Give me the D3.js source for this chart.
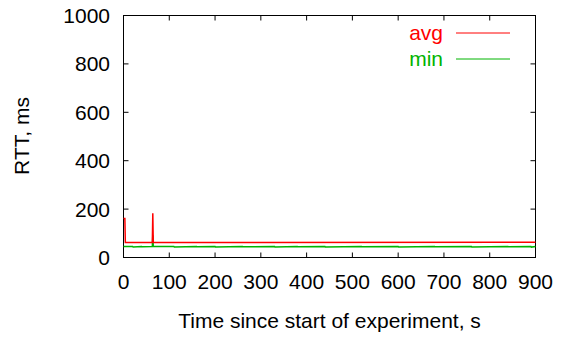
<!DOCTYPE html>
<html><head><meta charset="utf-8">
<script src="https://cdn.jsdelivr.net/npm/d3@7"></script>
<style>body{margin:0;background:#fff}svg{display:block}text{font-family:"Liberation Sans",Arial,sans-serif}</style>
</head><body><svg id="c" width="565" height="337"></svg>
<script>
const xTicks = [0,100,200,300,400,500,600,700,800,900];
const yTicks = [0,200,400,600,800,1000];
const seriesNames = ["avg","min"];
const seriesColors = ["#ff0000","#00b400"];
const avgT = [0,3,4,63,64,65,900];
const avgV = [161,161,62,62,183,62,63];
const minT = [0,20,21,40,41,63,64,65,110,111,160,161,200,201,260,261,330,331,380,381,440,441,520,521,600,601,680,681,760,761,840,841,890,891,900];
const minV = [45,45,43,45,44,45,92,45,45,43,45,44,45,43,45,44,45,43,45,44,45,43,45,44,45,43,45,44,45,43,45,44,45,43,45];
const xLabel = "Time since start of experiment, s";
const yLabel = "RTT, ms";

const svg = d3.select("#c");
const L=123.5, R=535.5, T=15.5, B=257.5;
const x = d3.scaleLinear().domain([0,900]).range([L,R]);
const y = d3.scaleLinear().domain([0,1000]).range([B,T]);
const font = 21;

svg.append("rect").attr("x",L).attr("y",T).attr("width",R-L).attr("height",B-T)
  .attr("fill","none").attr("stroke","#000").attr("stroke-width",1);

const tl=5;
xTicks.forEach(v=>{
  svg.append("line").attr("x1",x(v)).attr("x2",x(v)).attr("y1",B).attr("y2",B-tl).attr("stroke","#000");
  svg.append("line").attr("x1",x(v)).attr("x2",x(v)).attr("y1",T).attr("y2",T+tl).attr("stroke","#000");
  svg.append("text").attr("x",x(v)).attr("y",289).attr("text-anchor","middle").attr("font-size",font).text(v);
});
yTicks.forEach(v=>{
  svg.append("line").attr("x1",L).attr("x2",L+tl).attr("y1",y(v)).attr("y2",y(v)).attr("stroke","#000");
  svg.append("line").attr("x1",R).attr("x2",R-tl).attr("y1",y(v)).attr("y2",y(v)).attr("stroke","#000");
  svg.append("text").attr("x",110).attr("y",y(v)+7.5).attr("text-anchor","end").attr("font-size",font).text(v);
});

svg.append("text").attr("x",(L+R)/2).attr("y",328).attr("text-anchor","middle").attr("font-size",font).text(xLabel);
svg.append("text").attr("transform","translate(29,136) rotate(-90)").attr("text-anchor","middle").attr("font-size",font).text(yLabel);

const line = d3.line().x(d=>x(d[0])).y(d=>y(d[1]));
const avgData = avgT.map((t,i)=>[t,avgV[i]]);
const minData = minT.map((t,i)=>[t,minV[i]]);
svg.append("path").datum(minData).attr("d",line).attr("fill","none").attr("stroke",seriesColors[1]).attr("stroke-width",1.5);
svg.append("path").datum(avgData).attr("d",line).attr("fill","none").attr("stroke",seriesColors[0]).attr("stroke-width",1.5);

const legY=[33,59];
seriesNames.forEach((n,i)=>{
  svg.append("text").attr("x",443).attr("y",legY[i]+6.5).attr("text-anchor","end").attr("font-size",font).attr("fill",seriesColors[i]).text(n);
  svg.append("line").attr("x1",456).attr("x2",510).attr("y1",legY[i]).attr("y2",legY[i]).attr("stroke",seriesColors[i]).attr("stroke-width",1);
});
</script></body></html>
